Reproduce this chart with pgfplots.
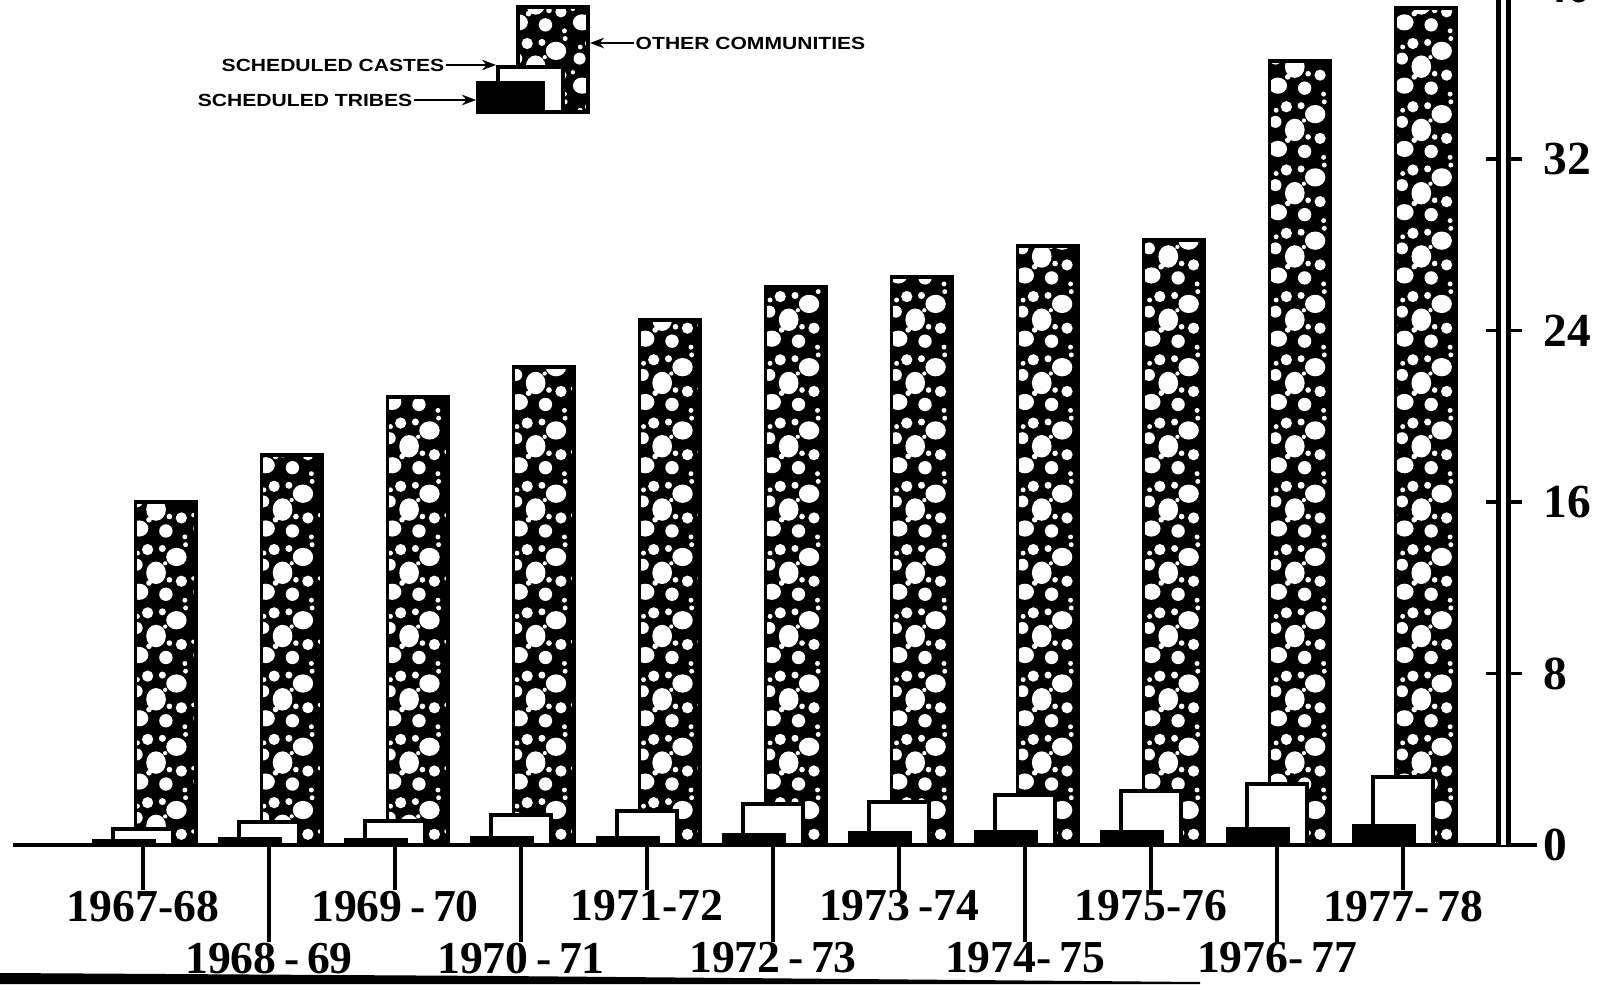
\documentclass[border=0pt]{standalone}
\usepackage{fontspec}
\setmainfont{Liberation Serif}
\newfontfamily\legfont[FakeStretch=1.2]{Liberation Sans Bold}
\usepackage{pgfplots}
\usepackage{pgfplotstable}
\pgfplotsset{compat=1.18}
\usetikzlibrary{patterns,arrows.meta}

\pgfdeclarepatterninherentlycolored{blobs}
{\pgfpoint{-0.1pt}{-0.1pt}}{\pgfpoint{18.1pt}{18.1pt}}{\pgfpoint{18pt}{18pt}}
{
 \pgfsetfillcolor{black}
 \pgfpathrectangle{\pgfpoint{-0.1pt}{-0.1pt}}{\pgfpoint{18.2pt}{18.2pt}}
 \pgfusepath{fill}
 \pgfsetfillcolor{white}
 \pgfpathellipse{\pgfpoint{3.6pt}{3.6pt}}{\pgfpoint{2.6pt}{0pt}}{\pgfpoint{0pt}{2.3pt}}
 \pgfpathcircle{\pgfpoint{11.2pt}{2.9pt}}{1.9pt}
 \pgfpathcircle{\pgfpoint{15.6pt}{6.6pt}}{1.6pt}
 \pgfpathellipse{\pgfpoint{8.4pt}{9.0pt}}{\pgfpoint{2.8pt}{0pt}}{\pgfpoint{0pt}{3.2pt}}
 \pgfpathcircle{\pgfpoint{2.9pt}{11.3pt}}{1.7pt}
 \pgfpathellipse{\pgfpoint{14.2pt}{13.5pt}}{\pgfpoint{2.9pt}{0pt}}{\pgfpoint{0pt}{2.6pt}}
 \pgfpathcircle{\pgfpoint{6.0pt}{15.6pt}}{1.6pt}
 \pgfpathcircle{\pgfpoint{10.2pt}{15.9pt}}{1.0pt}
 \pgfpathcircle{\pgfpoint{6.4pt}{6.1pt}}{0.8pt}
 \pgfpathcircle{\pgfpoint{12.2pt}{7.0pt}}{0.8pt}
 \pgfpathcircle{\pgfpoint{3.1pt}{14.6pt}}{0.7pt}
 \pgfpathcircle{\pgfpoint{16.8pt}{17.0pt}}{0.7pt}
 \pgfpathcircle{\pgfpoint{1.0pt}{7.4pt}}{0.6pt}
 \pgfpathcircle{\pgfpoint{16.6pt}{1.2pt}}{0.7pt}
 \pgfpathcircle{\pgfpoint{11.0pt}{11.7pt}}{0.6pt}
 \pgfusepath{fill}
}

% year index (0 = 1967-68), number for each community
\pgfplotstableread{
x other castes tribes
0 16.00 0.73 0.19
1 18.20 1.09 0.27
2 20.90 1.13 0.25
3 22.30 1.40 0.34
4 24.50 1.60 0.33
5 26.05 1.93 0.47
6 26.50 2.02 0.55
7 27.95 2.34 0.61
8 28.20 2.53 0.59
9 36.55 2.83 0.77
10 39.05 3.19 0.90
}\datatable

\begin{document}
\begin{tikzpicture}
% main axis: bars and x axis
\begin{axis}[
  x=1.26cm, y=0.2144cm,
  anchor=origin, at={(1.43cm,1.39cm)},
  xmin=-1.03, xmax=11.06, ymin=0, ymax=41,
  clip=false,
  axis x line*=bottom, axis y line=none,
  x axis line style={line width=0.9pt},
  tick align=outside,
  major tick length=0.45cm,
  xtick style={line width=0.9pt, black},
  xtick={0,2,4,6,8,10},
  xticklabels={1967-68,1969\,-\,70,1971-72,1973\,-74,1975-76,1977-\,78},
  extra x ticks={1,3,5,7,9},
  extra x tick labels={1968\,-\,69,1970\,-\,71,1972\,-\,73,1974-\,75,1976-\,77},
  extra x tick style={major tick length=0.97cm},
  xticklabel style={font=\fontsize{13}{13}\selectfont\bfseries, inner sep=0pt, anchor=north},
]
\addplot[ybar, bar width=0.48, bar shift=0.18, draw=black, line width=1.1pt, pattern=blobs]
  table[x=x, y=other] {\datatable};
\addplot[ybar, bar width=0.48, bar shift=0, draw=black, line width=1.1pt, fill=white]
  table[x=x, y=castes] {\datatable};
\addplot[ybar, bar width=0.48, bar shift=-0.15, draw=black, line width=1.1pt, fill=black]
  table[x=x, y=tribes] {\datatable};
\end{axis}
% y axis on the right
\begin{axis}[
  x=1.26cm, y=0.2144cm,
  anchor=origin, at={(1.43cm,1.39cm)},
  xmin=-1.03, xmax=10.80, ymin=0, ymax=41,
  axis x line=none, axis y line*=right,
  y axis line style={black, line width=0.05cm, double=white, double distance=0.05cm},
  tick align=center,
  major tick length=0.36cm,
  ytick={0,8,16,24,32,40},
  ytick style={line width=1pt, black},
  /pgf/number format/assume math mode=true,
  yticklabel style={font=\fontsize{13.5}{14}\selectfont\bfseries, anchor=west, inner sep=0pt, xshift=0.21cm},
]
\end{axis}
% legend
\fill[pattern=blobs] (5.18,8.72) rectangle (5.88,9.77);
\draw[line width=1pt] (5.18,8.72) rectangle (5.88,9.77);
\filldraw[fill=white, draw=black, line width=1pt] (4.98,8.72) rectangle (5.63,9.17);
\filldraw[fill=black, draw=black, line width=1pt] (4.78,8.72) rectangle (5.43,9.01);
\node[anchor=east, inner sep=0pt, font=\legfont\fontsize{5}{6}\selectfont] at (4.45,9.19) {SCHEDULED CASTES};
\node[anchor=east, inner sep=0pt, font=\legfont\fontsize{5}{6}\selectfont] at (4.13,8.84) {SCHEDULED TRIBES};
\node[anchor=west, inner sep=0pt, font=\legfont\fontsize{5}{6}\selectfont] at (6.35,9.41) {OTHER COMMUNITIES};
\draw[line width=0.6pt, -{Stealth[length=4pt,width=3pt]}] (4.46,9.19) -- (4.96,9.19);
\draw[line width=0.6pt, -{Stealth[length=4pt,width=3pt]}] (4.14,8.84) -- (4.76,8.84);
\draw[line width=0.6pt, -{Stealth[length=4pt,width=3pt]}] (6.34,9.41) -- (5.90,9.41);
% scan edge at bottom
\fill[black] (0,0) -- (0,0.11) -- (5,0.08) -- (12.0,0.02) -- (12.0,0) -- cycle;
\pgfresetboundingbox
\useasboundingbox (0,0) rectangle (16.05,9.84);
\end{tikzpicture}
\end{document}
